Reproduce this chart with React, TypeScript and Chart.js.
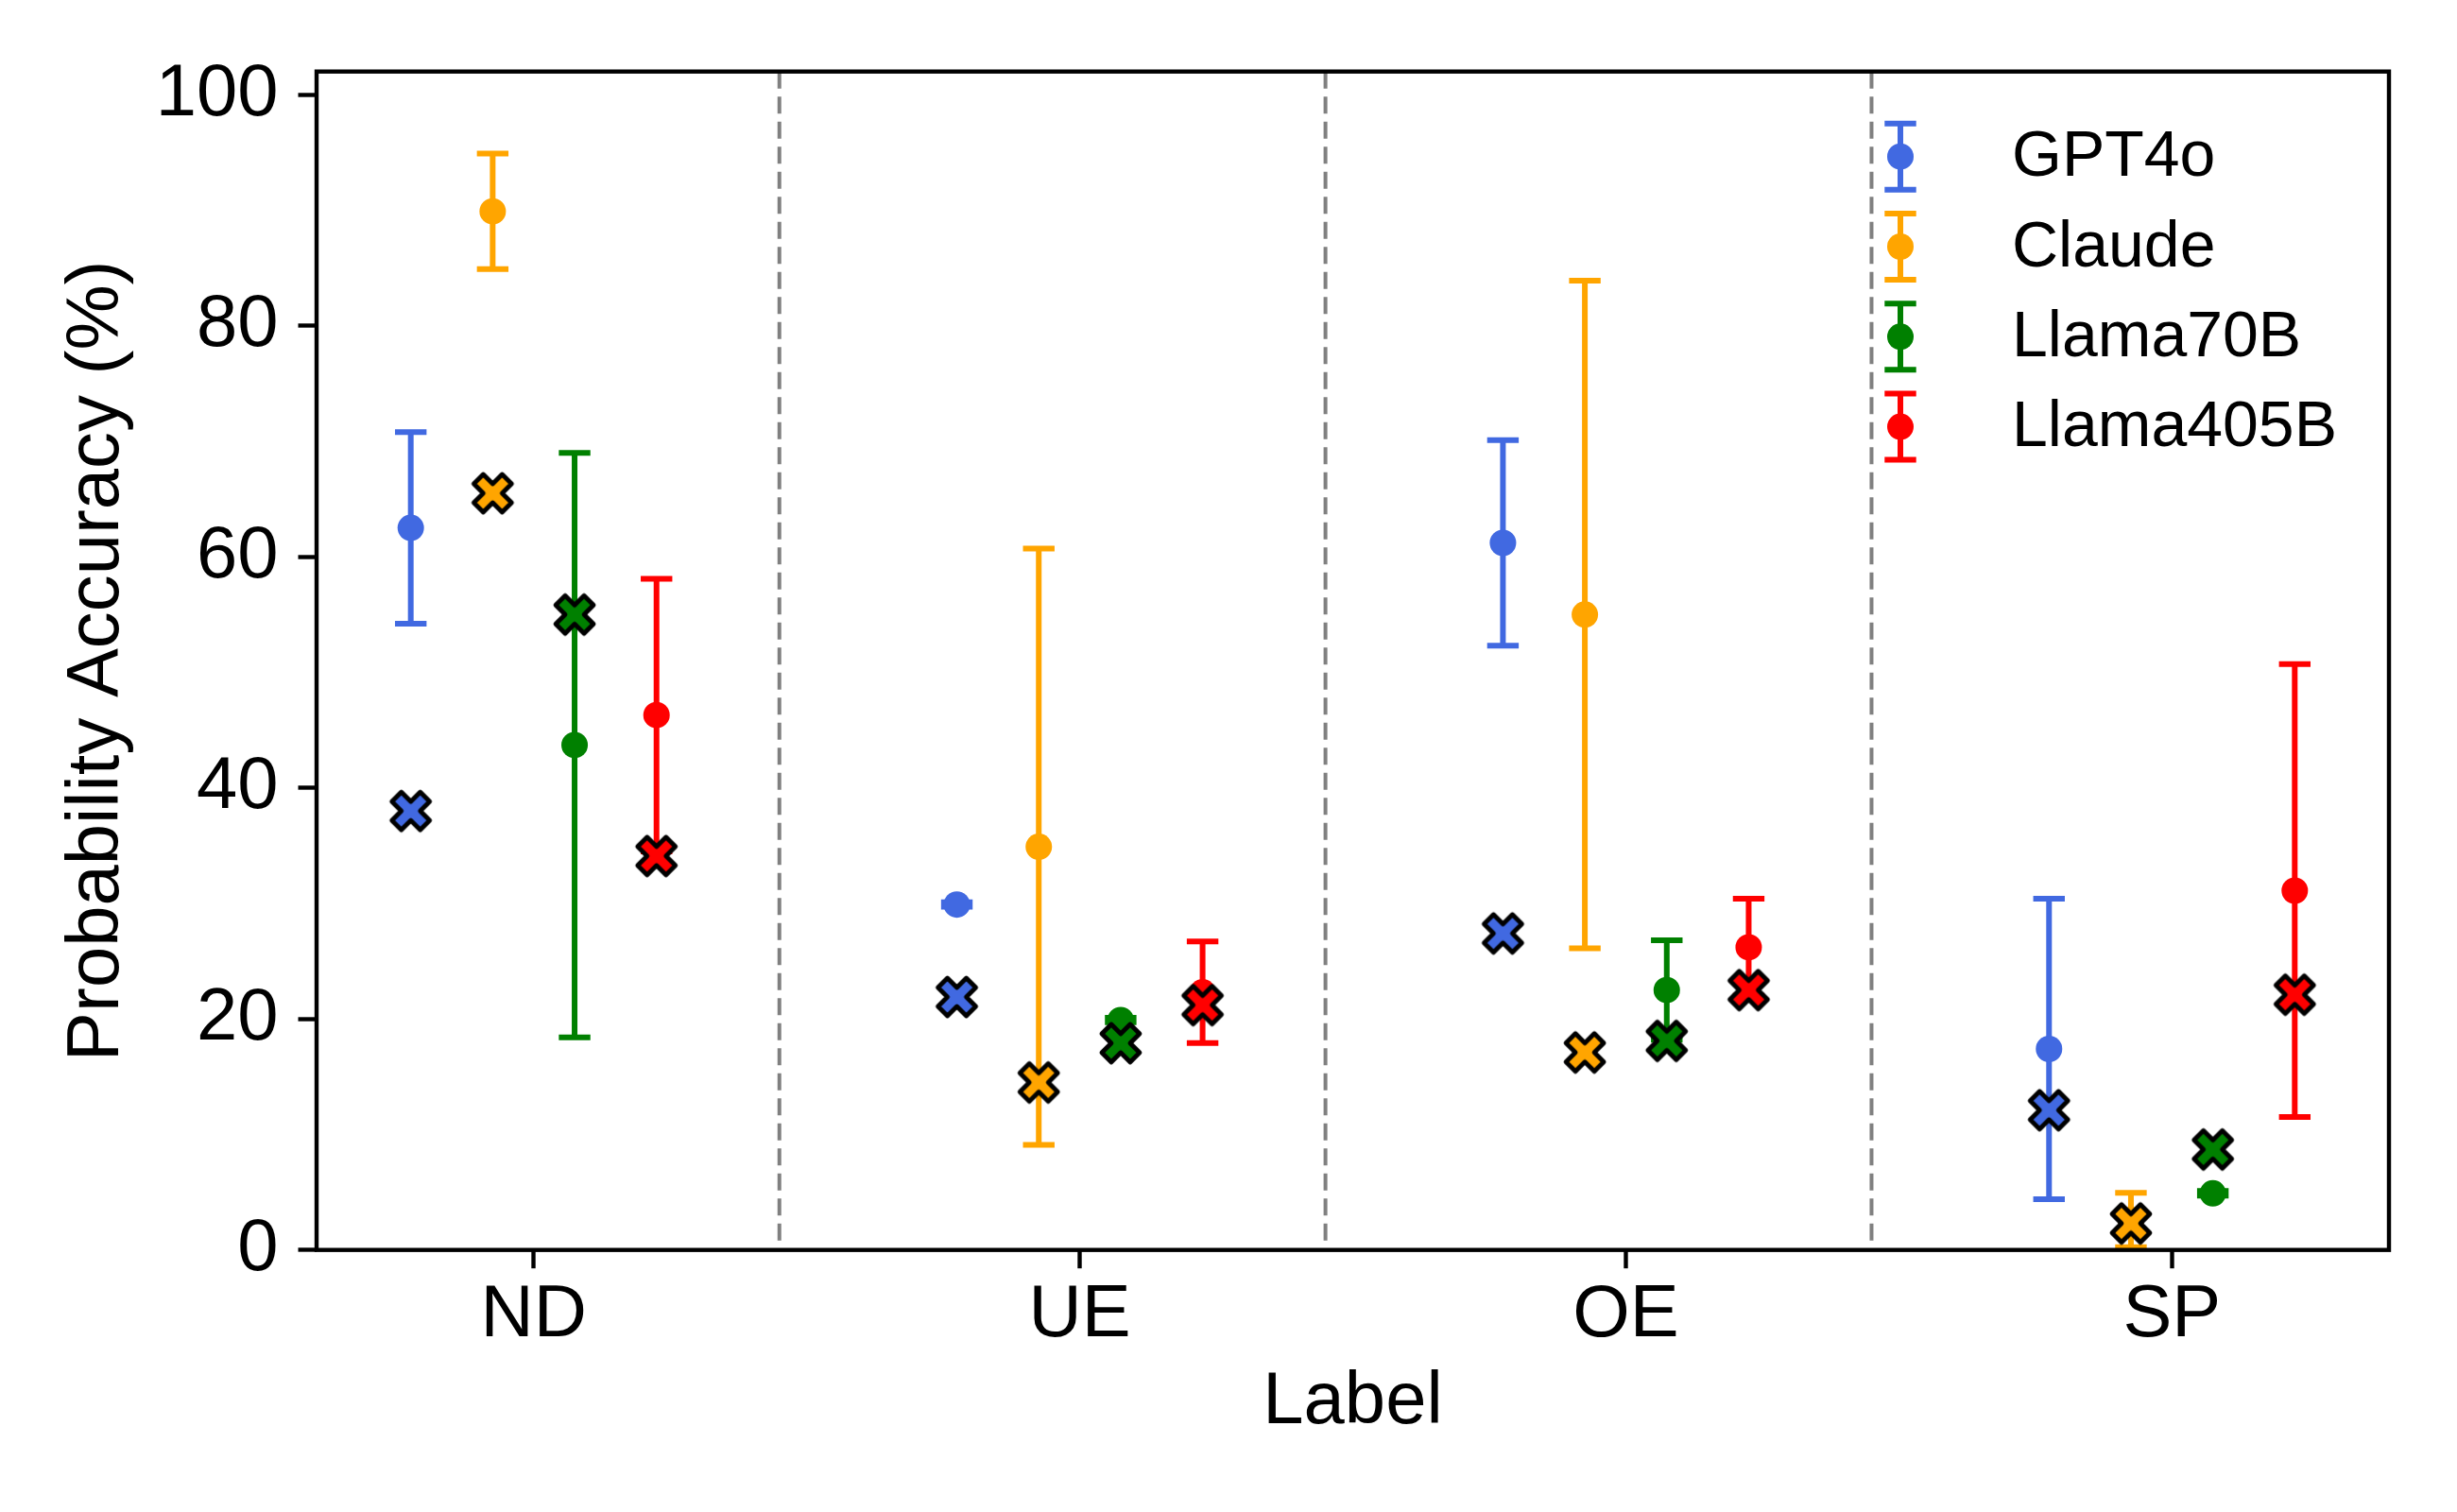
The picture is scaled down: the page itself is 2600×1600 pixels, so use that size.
import React, { useEffect, useRef } from 'react';
import { Chart, registerables } from 'chart.js';

Chart.register(...registerables);

// ---- data ----
const categories = ['ND', 'UE', 'OE', 'SP'];
const models = ['GPT4o', 'Claude', 'Llama70B', 'Llama405B'];
const modelColors = ['#4169E1', '#FFA500', '#008000', '#FF0000'];
const modelOffsets = [-0.225, -0.075, 0.075, 0.225];
const separators = [0.45, 1.45, 2.45];
const yTicks = [0, 20, 40, 60, 80, 100];

// mean (circle) and symmetric error
const gpt4oMean = [62.5, 29.9, 61.2, 17.4];
const gpt4oErr = [8.3, 0.2, 8.9, 13.0];
const claudeMean = [89.9, 34.9, 55.0, 2.6];
const claudeErr = [5.0, 25.8, 28.9, 2.35];
const llama70Mean = [43.7, 19.9, 22.5, 4.9];
const llama70Err = [25.3, 0.2, 4.3, 0.2];
const llama405Mean = [46.3, 22.3, 26.2, 31.1];
const llama405Err = [11.8, 4.4, 4.2, 19.6];

// X-marker values
const gpt4oCross = [38.0, 21.9, 27.4, 12.1];
const claudeCross = [65.5, 14.5, 17.1, 2.3];
const llama70Cross = [55.0, 17.9, 18.1, 8.7];
const llama405Cross = [34.1, 21.2, 22.5, 22.1];

const meanSeries = [gpt4oMean, claudeMean, llama70Mean, llama405Mean];
const errSeries = [gpt4oErr, claudeErr, llama70Err, llama405Err];
const crossSeries = [gpt4oCross, claudeCross, llama70Cross, llama405Cross];

const FONT = '"Liberation Sans", Arial, Helvetica, sans-serif';
const TICK_PX = 77.8;
const LEGEND_PX = 68;
const SPINE_W = 4.4;
const ERR_W = 6;
const CAP_HALF = 16.7;
const DOT_R = 14;

function makeXMarker(color: string): HTMLCanvasElement {
  const size = 54;
  const c = document.createElement('canvas');
  c.width = size;
  c.height = size;
  const ctx = c.getContext('2d')!;
  const s = 20;
  const pts = [
    [-1, -2], [0, -1], [1, -2], [2, -1], [1, 0], [2, 1],
    [1, 2], [0, 1], [-1, 2], [-2, 1], [-1, 0], [-2, -1],
  ];
  ctx.translate(size / 2, size / 2);
  ctx.beginPath();
  pts.forEach(([x, y], i) => {
    const px = (x * s) / 2;
    const py = (y * s) / 2;
    if (i === 0) ctx.moveTo(px, py);
    else ctx.lineTo(px, py);
  });
  ctx.closePath();
  ctx.fillStyle = color;
  ctx.fill();
  ctx.lineWidth = 4.8;
  ctx.lineJoin = 'round';
  ctx.strokeStyle = '#000';
  ctx.stroke();
  return c;
}

function drawErrorBar(ctx: CanvasRenderingContext2D, x: number, yTop: number, yBot: number, color: string) {
  ctx.save();
  ctx.strokeStyle = color;
  ctx.lineWidth = ERR_W;
  ctx.lineCap = 'butt';
  ctx.beginPath();
  ctx.moveTo(x, yTop);
  ctx.lineTo(x, yBot);
  ctx.moveTo(x - CAP_HALF, yTop);
  ctx.lineTo(x + CAP_HALF, yTop);
  ctx.moveTo(x - CAP_HALF, yBot);
  ctx.lineTo(x + CAP_HALF, yBot);
  ctx.stroke();
  ctx.restore();
}

const decorPlugin = {
  id: 'decor',
  beforeDatasetsDraw(chart: any) {
    const { ctx, chartArea, scales } = chart;
    const xs = scales.x;
    const ys = scales.y;
    // separators
    ctx.save();
    ctx.strokeStyle = '#808080';
    ctx.lineWidth = 4;
    ctx.setLineDash([18, 8.5]);
    separators.forEach((v) => {
      const px = xs.getPixelForValue(v);
      ctx.beginPath();
      ctx.moveTo(px, chartArea.top);
      ctx.lineTo(px, chartArea.bottom);
      ctx.stroke();
    });
    ctx.restore();
    // error bars
    models.forEach((_, m) => {
      categories.forEach((__, i) => {
        const x = xs.getPixelForValue(i + modelOffsets[m]);
        const mean = meanSeries[m][i];
        const err = errSeries[m][i];
        drawErrorBar(ctx, x, ys.getPixelForValue(mean + err), ys.getPixelForValue(mean - err), modelColors[m]);
      });
    });
  },
  afterDraw(chart: any) {
    const { ctx, chartArea } = chart;
    // frame
    ctx.save();
    ctx.strokeStyle = '#000';
    ctx.lineWidth = SPINE_W;
    ctx.strokeRect(chartArea.left, chartArea.top, chartArea.right - chartArea.left, chartArea.bottom - chartArea.top);
    ctx.restore();
    // legend
    const iconX = chartArea.right - 517;
    const textX = chartArea.right - 399;
    models.forEach((name, m) => {
      const cy = chartArea.top + 90 + m * 95.3;
      drawErrorBar(ctx, iconX, cy - 35, cy + 35, modelColors[m]);
      ctx.save();
      ctx.fillStyle = modelColors[m];
      ctx.beginPath();
      ctx.arc(iconX, cy, DOT_R, 0, Math.PI * 2);
      ctx.fill();
      ctx.fillStyle = '#000';
      ctx.font = `${LEGEND_PX}px ${FONT}`;
      ctx.textAlign = 'left';
      ctx.textBaseline = 'middle';
      ctx.fillText(name, textX, cy + 2);
      ctx.restore();
    });
  },
};

export default function App() {
  const ref = useRef<HTMLCanvasElement | null>(null);

  useEffect(() => {
    if (!ref.current) return;
    const crossSets = models.map((name, m) => ({
      type: 'scatter' as const,
      label: name + ' (X)',
      data: categories.map((_, i) => ({ x: i + modelOffsets[m], y: crossSeries[m][i] })),
      pointStyle: makeXMarker(modelColors[m]) as any,
      pointRadius: 22,
      showLine: false,
    }));
    const meanSets = models.map((name, m) => ({
      type: 'scatter' as const,
      label: name,
      data: categories.map((_, i) => ({ x: i + modelOffsets[m], y: meanSeries[m][i] })),
      pointStyle: 'circle' as const,
      pointRadius: DOT_R,
      pointBorderWidth: 0,
      backgroundColor: modelColors[m],
      borderColor: modelColors[m],
      showLine: false,
    }));

    const chart = new Chart(ref.current, {
      type: 'scatter',
      data: { datasets: [...crossSets.reverse(), ...meanSets] as any },
      options: {
        animation: false,
        responsive: false,
        maintainAspectRatio: false,
        devicePixelRatio: 1,
        events: [],
        layout: { padding: { top: 75.7, right: 72, left: 0, bottom: 0 } },
        plugins: { legend: { display: false }, tooltip: { enabled: false } },
        scales: {
          x: {
            type: 'linear',
            min: -0.3975,
            max: 3.3975,
            afterBuildTicks: (s: any) => {
              s.ticks = categories.map((_, i) => ({ value: i }));
            },
            afterFit: (s: any) => {
              s.height = 277.3;
            },
            ticks: {
              autoSkip: false,
              maxRotation: 0,
              padding: 4,
              color: '#000',
              font: { family: FONT, size: TICK_PX, lineHeight: 1.2 },
              callback: (v: any) => categories[Math.round(Number(v))] ?? '',
            },
            grid: { display: true, drawOnChartArea: false, drawTicks: true, tickLength: 19.5, tickWidth: SPINE_W, tickColor: '#000' },
            border: { display: false },
            title: {
              display: true,
              text: 'Label',
              color: '#000',
              font: { family: FONT, size: TICK_PX, lineHeight: 1.2 },
              padding: { top: 0, bottom: 69 },
            },
          },
          y: {
            type: 'linear',
            min: 0,
            max: 102,
            afterBuildTicks: (s: any) => {
              s.ticks = yTicks.map((v) => ({ value: v }));
            },
            afterFit: (s: any) => {
              s.width = 335;
            },
            ticks: {
              padding: 21,
              color: '#000',
              font: { family: FONT, size: TICK_PX, lineHeight: 1.2 },
            },
            grid: { display: true, drawOnChartArea: false, drawTicks: true, tickLength: 19.5, tickWidth: SPINE_W, tickColor: '#000' },
            border: { display: false },
            title: {
              display: true,
              text: 'Probability Accuracy (%)',
              color: '#000',
              font: { family: FONT, size: TICK_PX, lineHeight: 1.2 },
              padding: { top: 57, bottom: 0 },
            },
          },
        },
      },
      plugins: [decorPlugin],
    });
    return () => chart.destroy();
  }, []);

  return (
    <div style={{ position: 'absolute', left: 0, top: 0, width: 2600, height: 1600, background: '#fff' }}>
      <canvas ref={ref} width={2600} height={1600} style={{ display: 'block', width: 2600, height: 1600 }} />
    </div>
  );
}
